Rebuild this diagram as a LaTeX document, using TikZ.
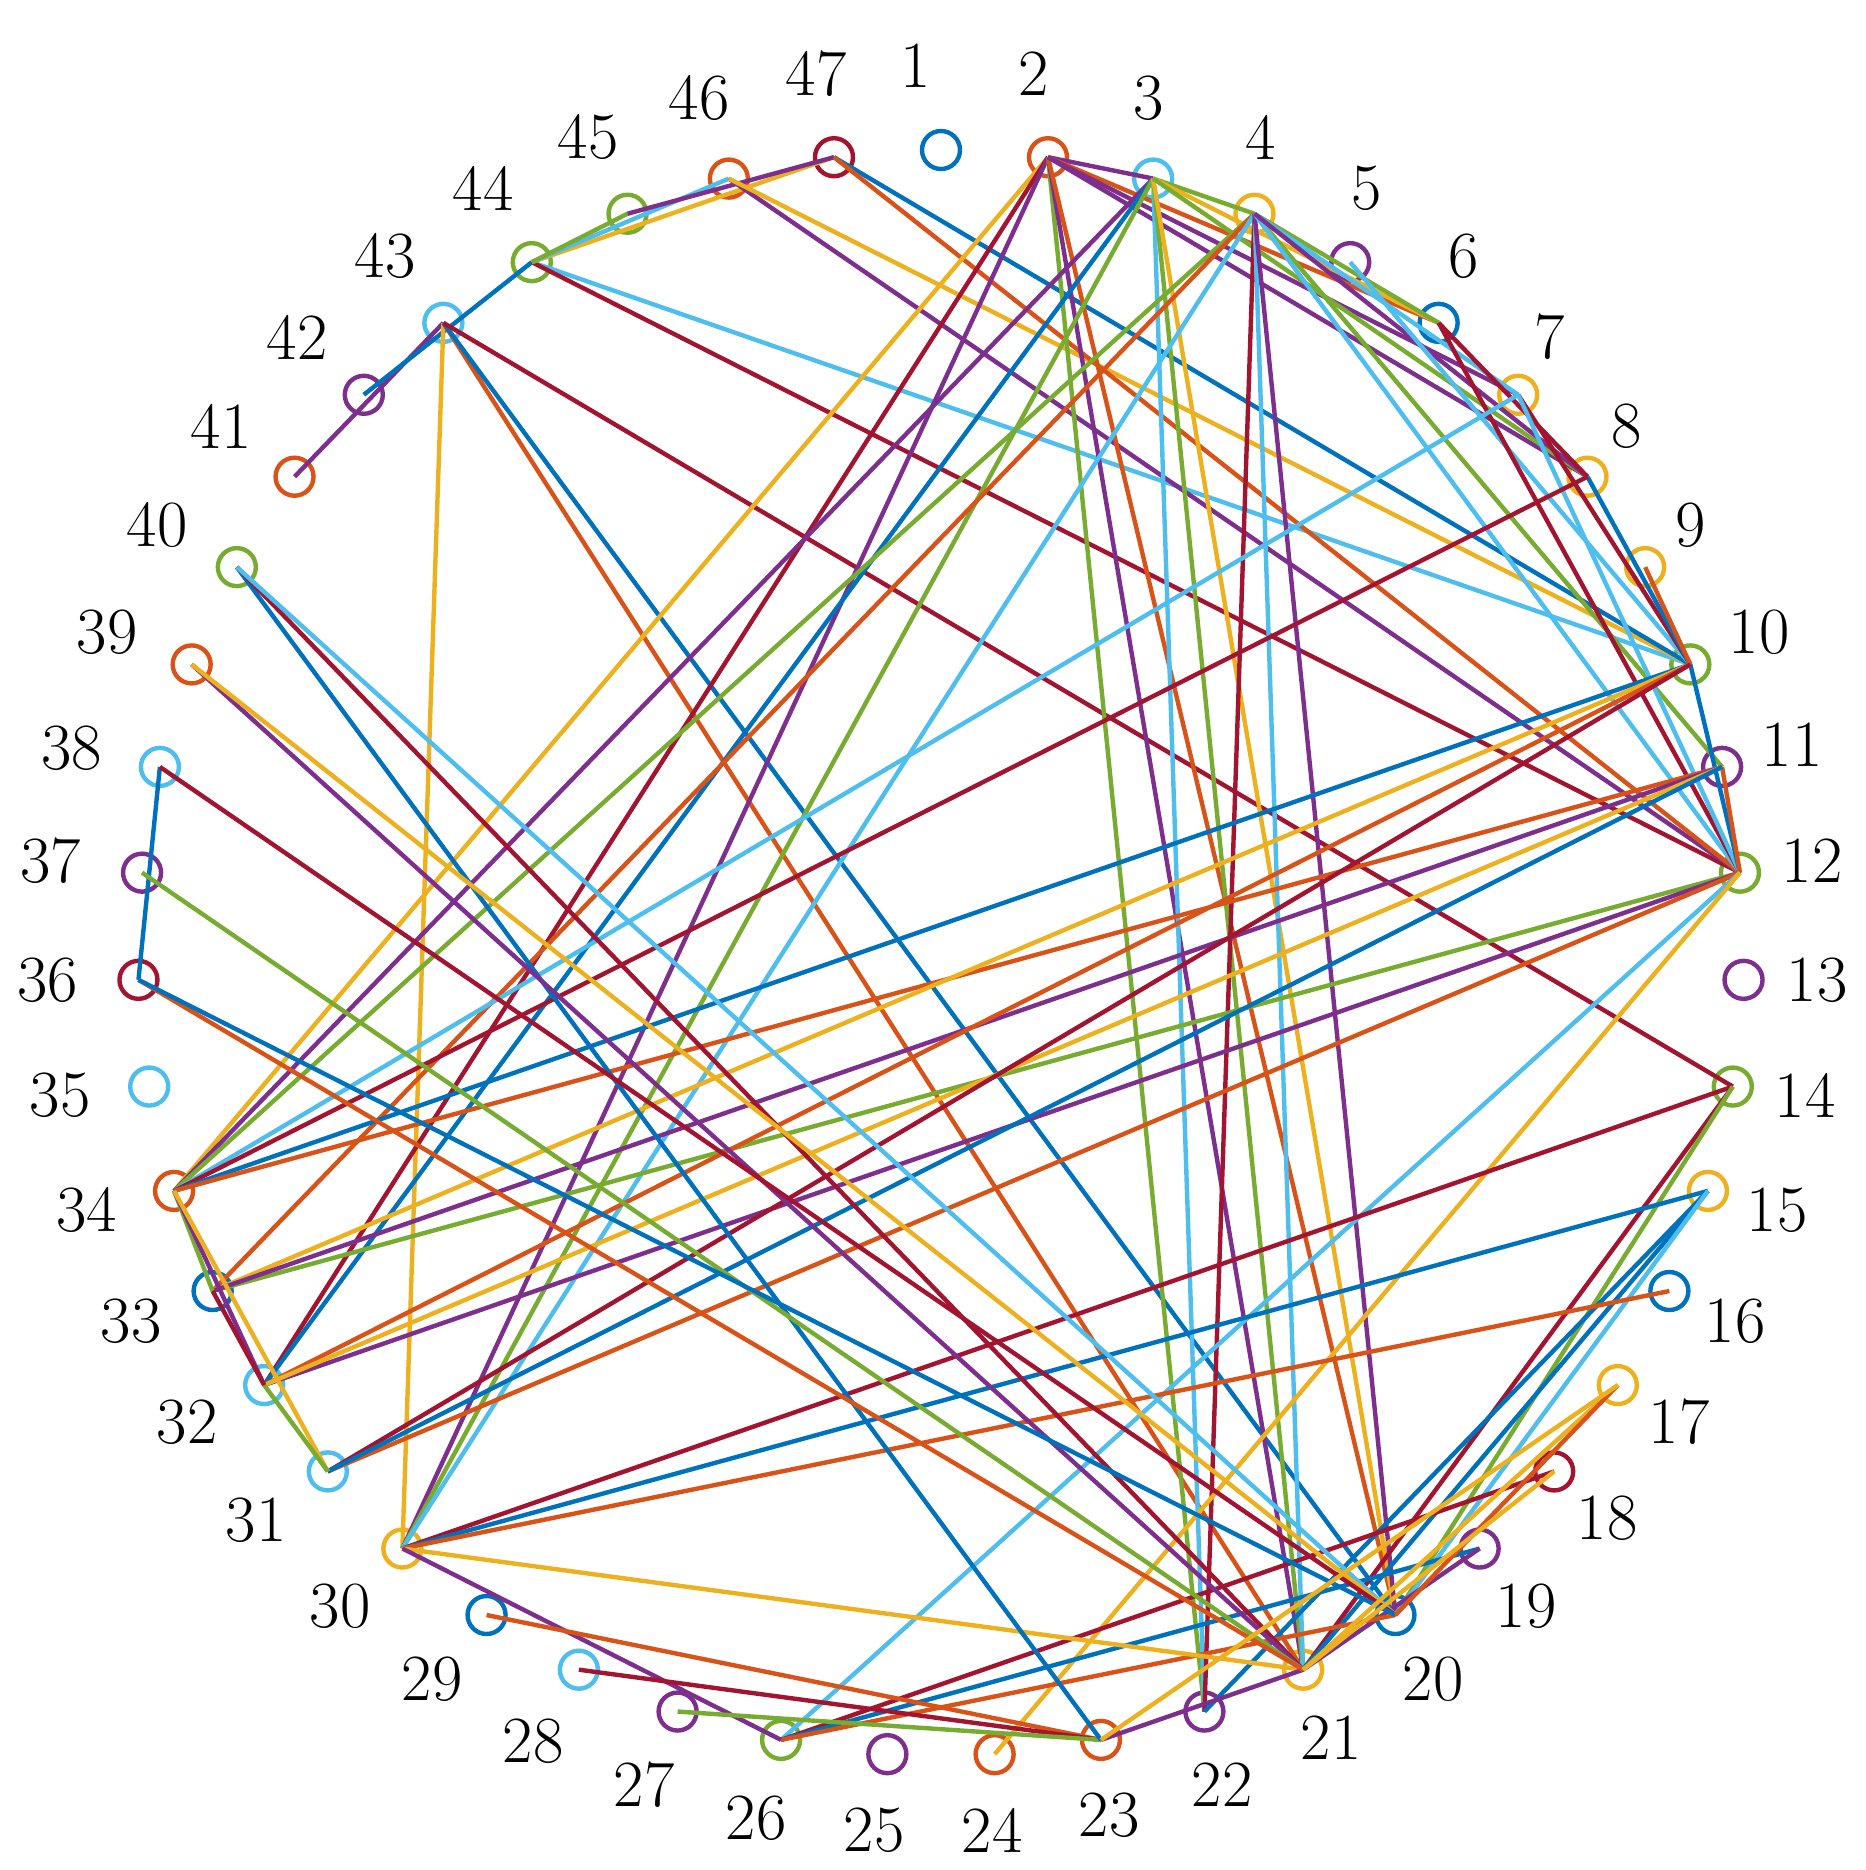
\documentclass[tikz,border=0pt]{standalone}
\definecolor{mblue}{rgb}{0,0.447,0.741}
\definecolor{morange}{rgb}{0.85,0.325,0.098}
\definecolor{myellow}{rgb}{0.929,0.694,0.125}
\definecolor{mpurple}{rgb}{0.494,0.184,0.556}
\definecolor{mgreen}{rgb}{0.466,0.674,0.188}
\definecolor{mlblue}{rgb}{0.301,0.745,0.933}
\definecolor{mred}{rgb}{0.635,0.078,0.184}
\begin{document}
\begin{tikzpicture}[x=0.5pt,y=-0.5pt,
  vtx/.style={circle,draw,line width=2.2pt,minimum size=19pt,inner sep=0pt},
  lbl/.style={font=\fontsize{33}{40}\selectfont,inner sep=0pt},
  edge/.style={line width=2.2pt}]
\useasboundingbox (0,0) rectangle (1866,1870);
\foreach \k/\c in {1/mblue,2/morange,3/mlblue,4/myellow,5/mpurple,6/mblue,7/myellow,8/myellow,9/myellow,10/mgreen,11/mpurple,12/mgreen,13/mpurple,14/mgreen,15/myellow,16/mblue,17/myellow,18/mred,19/mpurple,20/mblue,21/myellow,22/mpurple,23/morange,24/morange,25/mpurple,26/mgreen,27/mpurple,28/mlblue,29/mblue,30/myellow,31/mlblue,32/mlblue,33/mblue,34/morange,35/mlblue,36/mred,37/mpurple,38/mlblue,39/morange,40/mgreen,41/morange,42/mpurple,43/mlblue,44/mgreen,45/mgreen,46/morange,47/mred}{
  \pgfmathsetmacro\ang{-90+(\k-1)*7.6595745}
  \node[vtx,draw=\c] (n\k) at ({941+803*cos(\ang)},{953+803*sin(\ang)}) {};
}
\foreach \k/\x/\y in {1/916/66,2/1034/74,3/1149/98,4/1261/137,5/1367/188,6/1464/256,7/1550/337,8/1627/426,9/1691/525,10/1759/632,11/1792/745,12/1812/861,13/1817/980,14/1805/1095,15/1777/1210,16/1735/1321,17/1679/1422,18/1607/1518,19/1526/1606,20/1433/1679,21/1331/1738,22/1222/1785,23/1109/1815,24/992/1830,25/874/1830,26/756/1818,27/644/1785,28/533/1741,29/432/1679,30/340/1606,31/256/1520,32/187/1422,33/131/1321,34/87/1210,35/60/1095,36/48/980,37/51/861,38/72/748,39/107/632,40/157/525,41/221/426,42/297/337,43/385/256,44/483/188,45/588/137,46/699/98,47/816/74}{
  \node[lbl] (l\k) at (\x,\y) {\k};
}
\foreach \a/\b/\c in {41/43/mpurple,42/44/mblue,43/30/myellow,43/21/morange,43/20/mblue,43/14/mred,
44/10/mlblue,44/12/mred,44/47/myellow,44/46/mlblue,44/45/mgreen,45/47/mpurple,46/12/mpurple,46/10/myellow,47/10/mblue,47/12/morange,
2/34/myellow,2/32/mred,2/30/mpurple,2/22/mgreen,2/21/mpurple,2/20/morange,2/3/mpurple,2/6/morange,2/7/mpurple,2/8/mpurple,
3/34/mpurple,3/32/mblue,3/30/mgreen,3/22/mlblue,3/21/mgreen,3/20/myellow,3/4/mgreen,3/6/myellow,3/8/mgreen,
4/34/mgreen,4/33/morange,4/30/mlblue,4/22/mred,4/21/mlblue,4/20/mpurple,4/11/mgreen,4/12/mlblue,4/6/mgreen,4/7/mlblue,4/8/mpurple,
5/10/mlblue,6/8/mred,6/12/mred,7/10/mred,7/12/mlblue,8/10/mblue,9/10/morange,10/12/mblue,11/12/morange,
34/7/mlblue,34/8/mred,34/10/mblue,34/11/morange,33/12/mgreen,33/10/myellow,33/11/mpurple,32/12/mpurple,32/10/morange,32/11/myellow,31/12/morange,31/10/mred,31/11/mblue,
26/12/mlblue,24/12/myellow,14/30/mred,14/21/mred,14/20/mgreen,15/30/mblue,15/22/mblue,15/21/mblue,15/20/mlblue,16/30/morange,
18/26/mred,19/26/mblue,19/21/mpurple,26/20/morange,30/21/myellow,30/26/mpurple,23/21/mpurple,29/23/morange,28/23/mred,27/23/mgreen,
40/23/mblue,40/21/mred,40/20/mlblue,39/21/mpurple,39/20/myellow,38/36/mblue,38/20/mred,37/21/mgreen,36/21/morange,36/20/mblue,
34/33/mgreen,34/32/mpurple,34/31/myellow,32/31/mgreen,33/32/mred,17/21/myellow,17/20/morange,18/21/myellow,23/17/myellow}{
  \draw[edge,\c] (n\a.center) -- (n\b.center);
}
\end{tikzpicture}
\end{document}
